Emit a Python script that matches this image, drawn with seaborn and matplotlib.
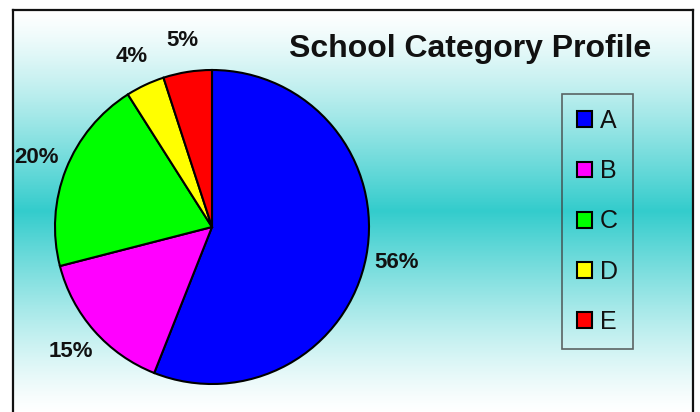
import numpy as np
import matplotlib
matplotlib.use("Agg")
import matplotlib.pyplot as plt
import seaborn as sns
from matplotlib.patches import Patch

categories = ["A", "B", "C", "D", "E"]
values = [56, 15, 20, 4, 5]
colors = ["#0000FF", "#FF00FF", "#00FF00", "#FFFF00", "#FF0000"]
title = "School Category Profile"

sns.set_theme(style="white")
plt.rcParams["font.family"] = ["Liberation Sans", "DejaVu Sans"]

W, H = 700, 412
fig = plt.figure(figsize=(7, 4.12), dpi=100)
fig.patch.set_facecolor("white")

# background gradient panel with border
bg = fig.add_axes([13 / W, 0, (693 - 13) / W, (H - 10) / H], zorder=0)
n = 400
d = np.abs(np.linspace(-1, 1, n))
f = (1 - d) ** 1.25
white = np.array([255, 255, 255]) / 255
cyan = np.array([51, 204, 204]) / 255
grad = white[None, :] * (1 - f[:, None]) + cyan[None, :] * f[:, None]
img = np.repeat(grad[:, None, :], 2, axis=1)
bg.imshow(img, aspect="auto", extent=[0, 1, 0, 1], interpolation="bilinear")
bg.set_xlim(0, 1)
bg.set_ylim(0, 1)
bg.set_xticks([])
bg.set_yticks([])
for s in ["top", "left", "right"]:
    bg.spines[s].set_visible(True)
    bg.spines[s].set_color("#111111")
    bg.spines[s].set_linewidth(1.6)
bg.spines["bottom"].set_visible(False)

# pie
cx, cy, r = 212, 227, 157
ax = fig.add_axes([(cx - r) / W, (H - cy - r) / H, 2 * r / W, 2 * r / H], zorder=1)
ax.patch.set_alpha(0)
wedges, texts, autotexts = ax.pie(
    values,
    colors=colors,
    startangle=90,
    counterclock=False,
    autopct="%1.0f%%",
    pctdistance=1.2,
    wedgeprops=dict(edgecolor="black", linewidth=1.5),
    textprops=dict(fontsize=16, fontweight="bold", color="#111111"),
)
ax.set_xlim(-1, 1)
ax.set_ylim(-1, 1)
ax.set_aspect("equal")
ax.axis("off")

fig.text(470 / W, 1 - 57 / H, title, ha="center", va="baseline",
         fontsize=23, fontweight="bold", color="#111111")

handles = [Patch(facecolor=c, edgecolor="black", linewidth=1.5) for c in colors]
leg = fig.legend(handles, categories, loc="center",
                 bbox_to_anchor=(597.5 / W, 1 - 221.5 / H),
                 fontsize=18, frameon=True, fancybox=False,
                 handlelength=0.6, handleheight=0.6, handletextpad=0.3,
                 labelspacing=1.05, borderpad=0.6)
fr = leg.get_frame()
fr.set_facecolor("none")
fr.set_edgecolor("#404040")
fr.set_linewidth(1.2)
for t in leg.get_texts():
    t.set_color("#111111")

fig.savefig("out.png", dpi=100)
